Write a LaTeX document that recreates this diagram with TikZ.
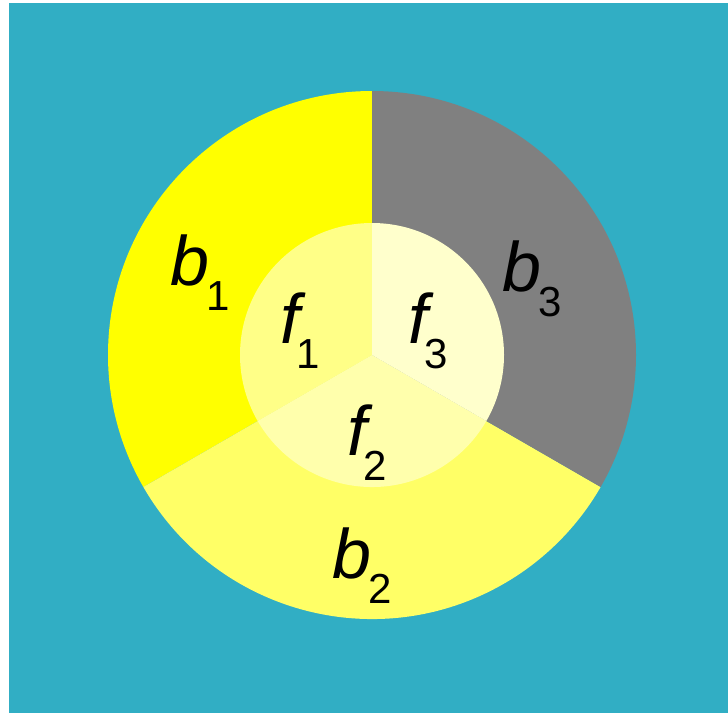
\documentclass[tikz,border=0pt]{standalone}
\usepackage{fontspec}
\setmainfont{Liberation Sans}
\definecolor{teal}{RGB}{49,174,196}
\definecolor{bone}{RGB}{255,255,0}
\definecolor{btwo}{RGB}{255,255,102}
\definecolor{bthree}{RGB}{128,128,128}
\definecolor{fone}{RGB}{255,255,135}
\definecolor{ftwo}{RGB}{255,255,172}
\definecolor{fthree}{RGB}{255,255,204}
\newcommand{\mylbl}[2]{{\itshape #1}\kern-3pt\raisebox{-25pt}{\fontsize{42}{42}\selectfont #2}}
\tikzset{lbl/.style={anchor=base west,inner sep=0pt,font=\fontsize{70}{70}\selectfont}}
\begin{document}
\begin{tikzpicture}[x=1pt,y=-1pt]
\useasboundingbox (0,0) rectangle (728,715);
\fill[white] (0,0) rectangle (728,715);
\fill[teal] (9,3) rectangle (728,713);
\coordinate (c) at (372,355);
% outer sectors
\fill[bone] (c) -- ++(0,-264) arc[start angle=-90,end angle=-210,radius=264] -- cycle;
\fill[btwo] (c) -- ++(150:264) arc[start angle=150,end angle=30,radius=264] -- cycle;
\fill[bthree] (c) -- ++(0,-264) arc[start angle=-90,end angle=30,radius=264] -- cycle;
% inner sectors
\fill[fone] (c) -- ++(0,-132) arc[start angle=-90,end angle=-210,radius=132] -- cycle;
\fill[ftwo] (c) -- ++(150:132) arc[start angle=150,end angle=30,radius=132] -- cycle;
\fill[fthree] (c) -- ++(0,-132) arc[start angle=-90,end angle=30,radius=132] -- cycle;
% labels
\node[lbl] (b1) at (170,285) {\mylbl{b}{1}};
\node[lbl] (b3) at (502,291) {\mylbl{b}{3}};
\node[lbl] (b2) at (332,578) {\mylbl{b}{2}};
\node[lbl] (f1) at (280,343) {\mylbl{f}{1}};
\node[lbl] (f3) at (408,343) {\mylbl{f}{3}};
\node[lbl] (f2) at (347,455) {\mylbl{f}{2}};
\end{tikzpicture}
\end{document}
